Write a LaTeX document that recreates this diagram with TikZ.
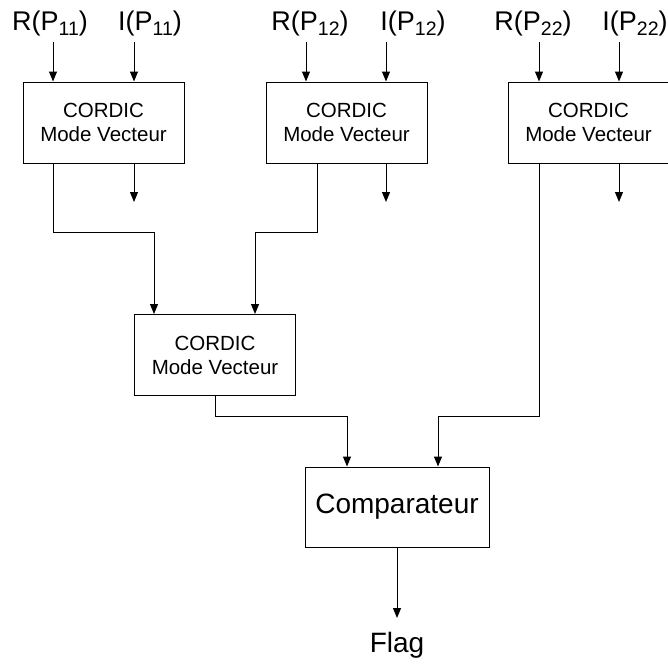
\documentclass[tikz,border=0pt]{standalone}
\usepackage{fontspec}
\setmainfont{Liberation Sans}
\usetikzlibrary{arrows.meta}
\newcommand\mysub[1]{\raisebox{-5.5pt}{\fontsize{19.5}{19.5}\selectfont #1}}
\begin{document}
\begin{tikzpicture}[x=1pt,y=-1pt,
  line width=1pt,
  arr/.style={-{Triangle[length=10pt,width=8pt]}},
  cbox/.style={draw,minimum width=161pt,minimum height=81pt,inner sep=0pt,align=center,
    font=\fontsize{20.5}{24}\selectfont},
  lbl/.style={anchor=base,inner sep=0pt,font=\fontsize{27}{32}\selectfont},
  big/.style={font=\fontsize{28}{32}\selectfont}]
\useasboundingbox (0,0) rectangle (668,664);
% boxes
\node[cbox] (b1) at (103.5,122.5) {CORDIC\\Mode Vecteur};
\node[cbox] (b2) at (346.5,122.5) {CORDIC\\Mode Vecteur};
\node[cbox] (b3) at (588.5,122.5) {CORDIC\\Mode Vecteur};
\node[cbox] (b4) at (215,355) {CORDIC\\Mode Vecteur};
\node[draw,big,minimum width=184pt,minimum height=80pt,inner sep=0pt] (cmp) at (397,507) {Comparateur};
% labels
\node[lbl] (r11) at (50,30) {R(P\mysub{11})};
\node[lbl] (i11) at (150,30) {I(P\mysub{11})};
\node[lbl] (r12) at (310,30) {R(P\mysub{12})};
\node[lbl] (i12) at (413,30) {I(P\mysub{12})};
\node[lbl] (r22) at (533,30) {R(P\mysub{22})};
\node[lbl] (i22) at (635,30) {I(P\mysub{22})};
\node[big,anchor=base,inner sep=0pt] (flag) at (397,652) {Flag};
% input arrows
\foreach \n/\x in {1/53,2/134,3/306,4/386,5/539,6/619}{
  \coordinate (in\n) at (\x,42);
}
\draw[arr] (in1) -- (in1 |- b1.north);
\draw[arr] (in2) -- (in2 |- b1.north);
\draw[arr] (in3) -- (in3 |- b2.north);
\draw[arr] (in4) -- (in4 |- b2.north);
\draw[arr] (in5) -- (in5 |- b3.north);
\draw[arr] (in6) -- (in6 |- b3.north);
% output stub arrows
\coordinate (o1) at (134,202);
\coordinate (o2) at (386,202);
\coordinate (o3) at (619,202);
\draw[arr] (b1.south -| o1) -- (o1);
\draw[arr] (b2.south -| o2) -- (o2);
\draw[arr] (b3.south -| o3) -- (o3);
% connections to box 4
\coordinate (m1) at (53,232);
\coordinate (m2) at (154,232);
\coordinate (m3) at (317,232);
\coordinate (m4) at (255,232);
\draw[arr] (b1.south -| m1) -- (m1) -- (m2) -- (m2 |- b4.north);
\draw[arr] (b2.south -| m3) -- (m3) -- (m4) -- (m4 |- b4.north);
% connections to comparator
\coordinate (n1) at (215,416);
\coordinate (n2) at (347,416);
\coordinate (n3) at (539,416);
\coordinate (n4) at (438,416);
\draw[arr] (b4.south -| n1) -- (n1) -- (n2) -- (n2 |- cmp.north);
\draw[arr] (b3.south -| n3) -- (n3) -- (n4) -- (n4 |- cmp.north);
% output
\coordinate (fl) at (397,618);
\draw[arr] (cmp.south) -- (fl);
\end{tikzpicture}
\end{document}
